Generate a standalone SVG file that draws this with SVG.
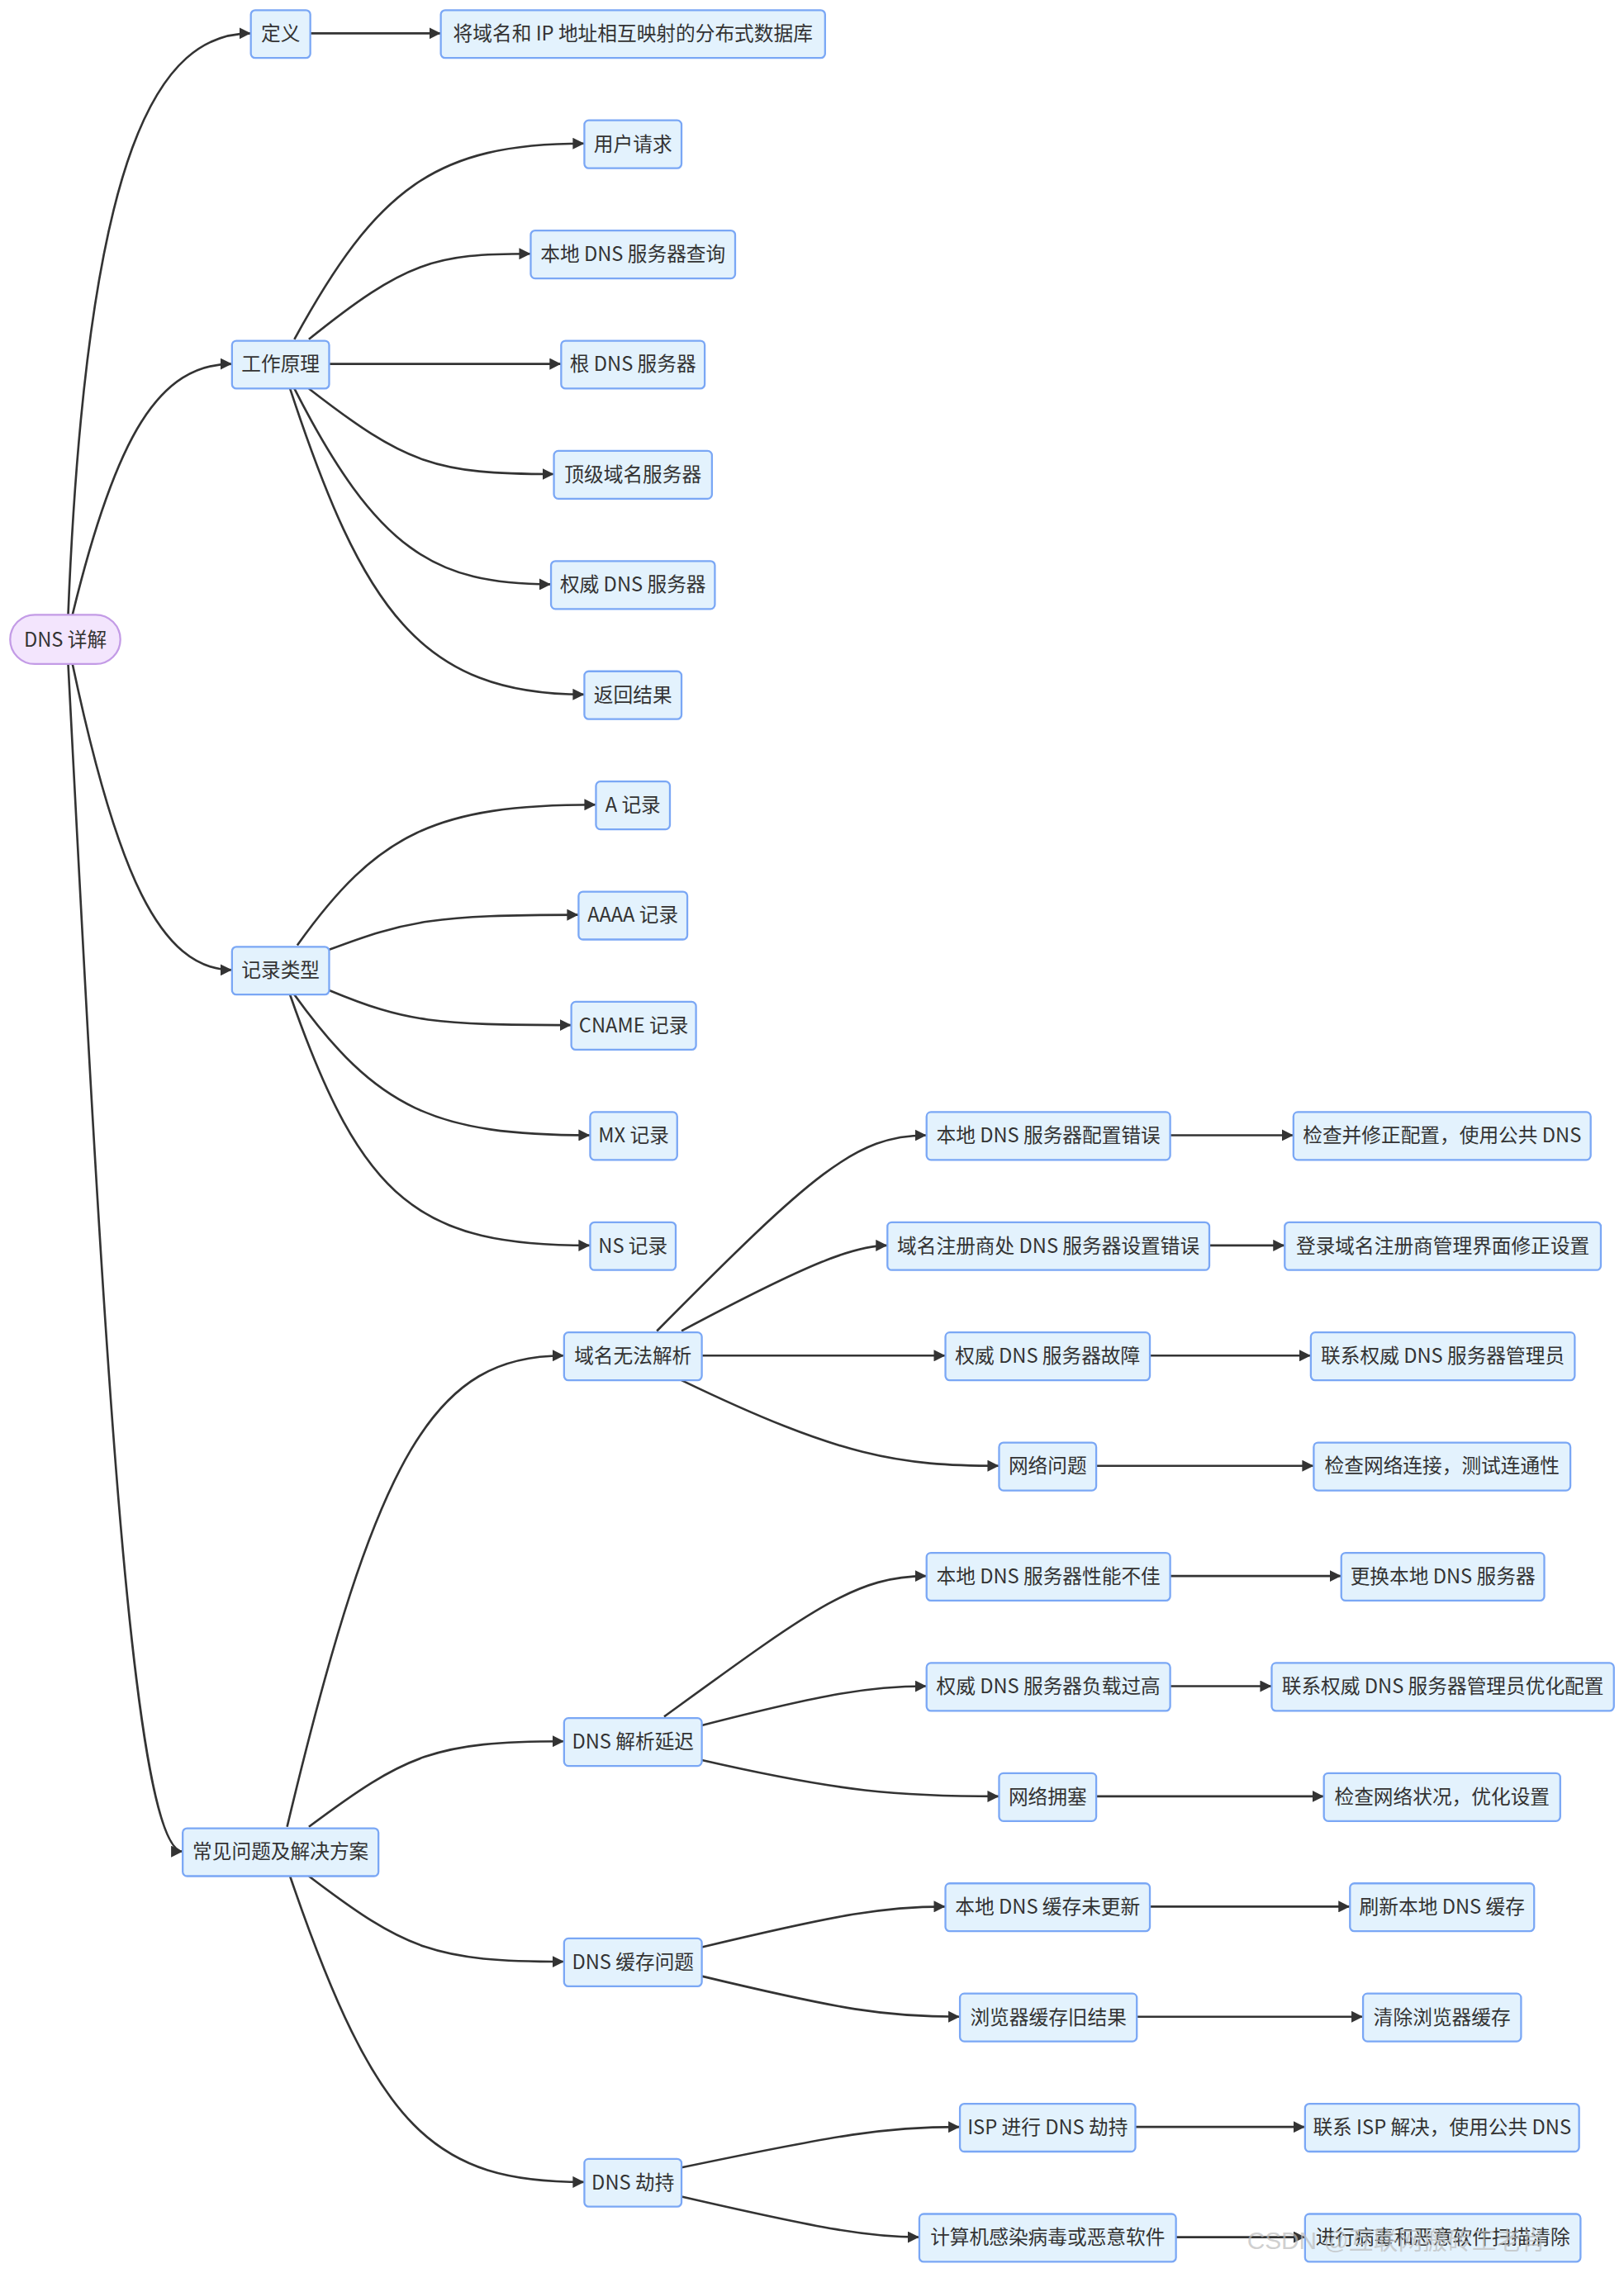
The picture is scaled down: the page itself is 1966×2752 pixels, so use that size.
<svg xmlns="http://www.w3.org/2000/svg" width="1966" height="2752" viewBox="0 0 1966 2752">
<defs>
<style>
.n rect{fill:#e3f2fd;stroke:#7aa7f5;stroke-width:1.3}
.r rect{fill:#f3e5fd;stroke:#c39be6;stroke-width:1.3}
text{font-family:"Noto Sans CJK SC","Noto Sans",sans-serif;font-size:13.5px;fill:#333;text-anchor:middle}
.e path{fill:none;stroke:#333;stroke-width:1.5;marker-end:url(#a)}
.wm{font-size:17px;fill:#bbb;fill-opacity:0.7;text-anchor:start;font-family:"Liberation Sans","Noto Sans CJK SC",sans-serif}
</style>
<marker id="a" viewBox="0 0 10 10" refX="10" refY="5" markerWidth="8" markerHeight="8" markerUnits="userSpaceOnUse" orient="auto"><path d="M0,0L10,5L0,10z" fill="#333"/></marker>
</defs>
<rect width="1966" height="2752" fill="#fff"/>
<g transform="scale(1.7554)">
<g class="e" id="edges">
<path d="M47,424 C60,100 110,23 173,23"/>
<path d="M50,424 C80,300 110,251 160,251"/>
<path d="M50,458 C80,600 110,669 160,669"/>
<path d="M47,458 C70,900 90,1277 126,1277"/>
<path d="M214,23 L304,23"/>
<path d="M203,234 C260,130 300,99 403,99"/>
<path d="M213,234 C280,180 300,175 366,175"/>
<path d="M227,251 L387,251"/>
<path d="M213,268 C280,320 300,327 382,327"/>
<path d="M203,268 C260,380 300,403 380,403"/>
<path d="M200,268 C250,420 290,479 403,479"/>
<path d="M205,652 C260,575 300,555 411,555"/>
<path d="M227,655 C280,635 300,631 399,631"/>
<path d="M227,683 C280,705 300,707 394,707"/>
<path d="M203,686 C260,765 300,783 407,783"/>
<path d="M200,686 C250,830 290,859 407,859"/>
<path d="M198,1260 C260,1000 300,935 389,935"/>
<path d="M213,1260 C280,1210 300,1201 389,1201"/>
<path d="M213,1294 C280,1345 300,1353 389,1353"/>
<path d="M200,1294 C260,1470 300,1505 403,1505"/>
<path d="M453,918 C560,810 590,783 639,783"/>
<path d="M470,918 C560,870 590,859 612,859"/>
<path d="M484,935 L652,935"/>
<path d="M470,952 C580,1005 620,1011 689,1011"/>
<path d="M458,1184 C560,1110 590,1087 639,1087"/>
<path d="M484,1190 C570,1168 600,1163 639,1163"/>
<path d="M484,1214 C580,1236 620,1239 689,1239"/>
<path d="M484,1343 C580,1320 610,1315 652,1315"/>
<path d="M484,1363 C580,1386 610,1391 662,1391"/>
<path d="M470,1495 C580,1472 610,1467 662,1467"/>
<path d="M470,1515 C570,1538 600,1543 634,1543"/>
<path d="M807,783 L892,783"/>
<path d="M834,859 L886,859"/>
<path d="M793,935 L904,935"/>
<path d="M756,1011 L906,1011"/>
<path d="M807,1087 L925,1087"/>
<path d="M807,1163 L877,1163"/>
<path d="M756,1239 L913,1239"/>
<path d="M793,1315 L931,1315"/>
<path d="M784,1391 L940,1391"/>
<path d="M783,1467 L900,1467"/>
<path d="M811,1543 L900,1543"/>
</g>
<g id="root" class="r"><rect x="7" y="424" width="76" height="34" rx="17"/><text x="45" y="446">DNS 详解</text></g>
<g id="n1" class="n"><rect x="173" y="7" width="41" height="33" rx="3"/><text x="193.5" y="28">定义</text></g>
<g id="n2" class="n"><rect x="304" y="7" width="265" height="33" rx="3"/><text x="436.5" y="28">将域名和 IP 地址相互映射的分布式数据库</text></g>
<g id="n3" class="n"><rect x="160" y="235" width="67" height="33" rx="3"/><text x="193.5" y="256">工作原理</text></g>
<g id="n4" class="n"><rect x="403" y="83" width="67" height="33" rx="3"/><text x="436.5" y="104">用户请求</text></g>
<g id="n5" class="n"><rect x="366" y="159" width="141" height="33" rx="3"/><text x="436.5" y="180">本地 DNS 服务器查询</text></g>
<g id="n6" class="n"><rect x="387" y="235" width="99" height="33" rx="3"/><text x="436.5" y="256">根 DNS 服务器</text></g>
<g id="n7" class="n"><rect x="382" y="311" width="109" height="33" rx="3"/><text x="436.5" y="332">顶级域名服务器</text></g>
<g id="n8" class="n"><rect x="380" y="387" width="113" height="33" rx="3"/><text x="436.5" y="408">权威 DNS 服务器</text></g>
<g id="n9" class="n"><rect x="403" y="463" width="67" height="33" rx="3"/><text x="436.5" y="484">返回结果</text></g>
<g id="n10" class="n"><rect x="160" y="653" width="67" height="33" rx="3"/><text x="193.5" y="674">记录类型</text></g>
<g id="n11" class="n"><rect x="411" y="539" width="51" height="33" rx="3"/><text x="436.5" y="560">A 记录</text></g>
<g id="n12" class="n"><rect x="399" y="615" width="75" height="33" rx="3"/><text x="436.5" y="636">AAAA 记录</text></g>
<g id="n13" class="n"><rect x="394" y="691" width="86" height="33" rx="3"/><text x="437" y="712">CNAME 记录</text></g>
<g id="n14" class="n"><rect x="407" y="767" width="60" height="33" rx="3"/><text x="437" y="788">MX 记录</text></g>
<g id="n15" class="n"><rect x="407" y="843" width="59" height="33" rx="3"/><text x="436.5" y="864">NS 记录</text></g>
<g id="n16" class="n"><rect x="126" y="1261" width="135" height="33" rx="3"/><text x="193.5" y="1282">常见问题及解决方案</text></g>
<g id="n17" class="n"><rect x="389" y="919" width="95" height="33" rx="3"/><text x="436.5" y="940">域名无法解析</text></g>
<g id="n18" class="n"><rect x="639" y="767" width="168" height="33" rx="3"/><text x="723" y="788">本地 DNS 服务器配置错误</text></g>
<g id="n19" class="n"><rect x="892" y="767" width="205" height="33" rx="3"/><text x="994.5" y="788">检查并修正配置，使用公共 DNS</text></g>
<g id="n20" class="n"><rect x="612" y="843" width="222" height="33" rx="3"/><text x="723" y="864">域名注册商处 DNS 服务器设置错误</text></g>
<g id="n21" class="n"><rect x="886" y="843" width="218" height="33" rx="3"/><text x="995" y="864">登录域名注册商管理界面修正设置</text></g>
<g id="n22" class="n"><rect x="652" y="919" width="141" height="33" rx="3"/><text x="722.5" y="940">权威 DNS 服务器故障</text></g>
<g id="n23" class="n"><rect x="904" y="919" width="182" height="33" rx="3"/><text x="995" y="940">联系权威 DNS 服务器管理员</text></g>
<g id="n24" class="n"><rect x="689" y="995" width="67" height="33" rx="3"/><text x="722.5" y="1016">网络问题</text></g>
<g id="n25" class="n"><rect x="906" y="995" width="177" height="33" rx="3"/><text x="994.5" y="1016">检查网络连接，测试连通性</text></g>
<g id="n26" class="n"><rect x="389" y="1185" width="95" height="33" rx="3"/><text x="436.5" y="1206">DNS 解析延迟</text></g>
<g id="n27" class="n"><rect x="639" y="1071" width="168" height="33" rx="3"/><text x="723" y="1092">本地 DNS 服务器性能不佳</text></g>
<g id="n28" class="n"><rect x="925" y="1071" width="140" height="33" rx="3"/><text x="995" y="1092">更换本地 DNS 服务器</text></g>
<g id="n29" class="n"><rect x="639" y="1147" width="168" height="33" rx="3"/><text x="723" y="1168">权威 DNS 服务器负载过高</text></g>
<g id="n30" class="n"><rect x="877" y="1147" width="236" height="33" rx="3"/><text x="995" y="1168">联系权威 DNS 服务器管理员优化配置</text></g>
<g id="n31" class="n"><rect x="689" y="1223" width="67" height="33" rx="3"/><text x="722.5" y="1244">网络拥塞</text></g>
<g id="n32" class="n"><rect x="913" y="1223" width="163" height="33" rx="3"/><text x="994.5" y="1244">检查网络状况，优化设置</text></g>
<g id="n33" class="n"><rect x="389" y="1337" width="95" height="33" rx="3"/><text x="436.5" y="1358">DNS 缓存问题</text></g>
<g id="n34" class="n"><rect x="652" y="1299" width="141" height="33" rx="3"/><text x="722.5" y="1320">本地 DNS 缓存未更新</text></g>
<g id="n35" class="n"><rect x="931" y="1299" width="127" height="33" rx="3"/><text x="994.5" y="1320">刷新本地 DNS 缓存</text></g>
<g id="n36" class="n"><rect x="662" y="1375" width="122" height="33" rx="3"/><text x="723" y="1396">浏览器缓存旧结果</text></g>
<g id="n37" class="n"><rect x="940" y="1375" width="109" height="33" rx="3"/><text x="994.5" y="1396">清除浏览器缓存</text></g>
<g id="n38" class="n"><rect x="403" y="1489" width="67" height="33" rx="3"/><text x="436.5" y="1510">DNS 劫持</text></g>
<g id="n39" class="n"><rect x="662" y="1451" width="121" height="33" rx="3"/><text x="722.5" y="1472">ISP 进行 DNS 劫持</text></g>
<g id="n40" class="n"><rect x="900" y="1451" width="189" height="33" rx="3"/><text x="994.5" y="1472">联系 ISP 解决，使用公共 DNS</text></g>
<g id="n41" class="n"><rect x="634" y="1527" width="177" height="33" rx="3"/><text x="722.5" y="1548">计算机感染病毒或恶意软件</text></g>
<g id="n42" class="n"><rect x="900" y="1527" width="190" height="33" rx="3"/><text x="995" y="1548">进行病毒和恶意软件扫描清除</text></g>
<text class="wm" x="860" y="1551">CSDN @互联网搬砖工老肖</text>
</g>
</svg>
